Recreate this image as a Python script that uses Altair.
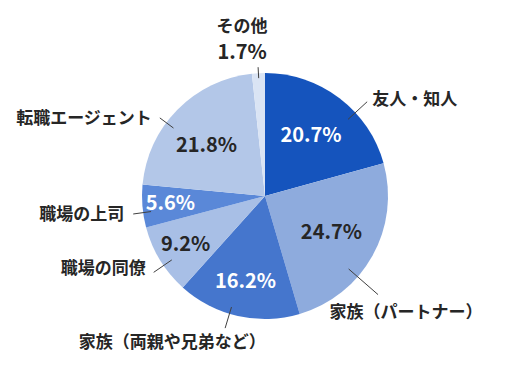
import math
import altair as alt
import pandas as pd

# ---- data ----
categories = ["友人・知人", "家族（パートナー）", "家族（両親や兄弟など）", "職場の同僚",
              "職場の上司", "転職エージェント", "その他"]
values = [20.7, 24.7, 16.2, 9.2, 5.6, 21.8, 1.7]

# ---- style ----
colors = ["#1554bd", "#8eabdd", "#4576cd", "#a8bfe6", "#5a88d8", "#b3c7e8", "#dae4f4"]
white_text = [True, False, True, False, True, False, False]
pct_r = [76, 76, 88, 93, 95, 77, 145]
pct_da = [0, 0, 0, 0, 0, -4, -6]
line_da = [10, 12, 4, -3, -3, -8, 0]
line_r1 = [113, 111, 116, 113, 115, 114, 118]
line_r2 = [139, 150, 138, 135, 133, 131, 129]
lab_dx = [5, 28, -53, -8, -9, -8, -16]
lab_dy = [-2, 18, 15, -3, 1, 1, -40]
lab_align = ["left", "center", "center", "right", "right", "right", "center"]

W, H = 493, 361
CX, CY = 257, 188
R = 123
FONT = "Noto Sans CJK JP"

total = sum(values)
rows = []
cum = 0.0
for i, (c, v) in enumerate(zip(categories, values)):
    mid = (cum + v / 2) / total * 360
    cum += v
    pa = math.radians(mid + pct_da[i])
    la = math.radians(mid + line_da[i])
    x1, y1 = line_r1[i] * math.sin(la), line_r1[i] * math.cos(la)
    x2, y2 = line_r2[i] * math.sin(la), line_r2[i] * math.cos(la)
    rows.append(dict(
        idx=i, cat=c, value=v, pct=f"{v:.1f}%",
        white=white_text[i],
        px=pct_r[i] * math.sin(pa), py=pct_r[i] * math.cos(pa),
        x1=x1, y1=y1, x2=x2, y2=y2,
        lx=x2 + lab_dx[i], ly=y2 - lab_dy[i],
        align=lab_align[i],
    ))
df = pd.DataFrame(rows)

xs = alt.Scale(domain=[-CX, W - CX])
ys = alt.Scale(domain=[-(H - CY), CY])

base = alt.Chart(df)

arcs = base.mark_arc(outerRadius=R).encode(
    theta=alt.Theta("value:Q", stack=True),
    color=alt.Color("cat:N", scale=alt.Scale(domain=categories, range=colors), legend=None),
    order=alt.Order("idx:Q"),
    x=alt.value(CX),
    y=alt.value(CY),
)

pcts = base.mark_text(
    font=FONT, fontSize=20, fontWeight="bold", baseline="middle", align="center"
).encode(
    x=alt.X("px:Q", scale=xs, axis=None),
    y=alt.Y("py:Q", scale=ys, axis=None),
    text="pct:N",
    color=alt.condition("datum.white", alt.value("white"), alt.value("#262626")),
)

lines = base.mark_rule(color="#404040", strokeWidth=1).encode(
    x=alt.X("x1:Q", scale=xs, axis=None),
    y=alt.Y("y1:Q", scale=ys, axis=None),
    x2="x2:Q",
    y2="y2:Q",
)

label_layers = []
for a in ["left", "center", "right"]:
    label_layers.append(
        base.transform_filter(f"datum.align == '{a}'").mark_text(
            font=FONT, fontSize=17, fontWeight="bold", align=a, baseline="middle",
            color="#262626"
        ).encode(
            x=alt.X("lx:Q", scale=xs, axis=None),
            y=alt.Y("ly:Q", scale=ys, axis=None),
            text="cat:N",
        )
    )

chart = alt.layer(arcs, lines, pcts, *label_layers).properties(
    width=W, height=H, padding=0
).configure_view(stroke=None)

chart.save("out.html", embed_options={"renderer": "svg", "actions": False})
